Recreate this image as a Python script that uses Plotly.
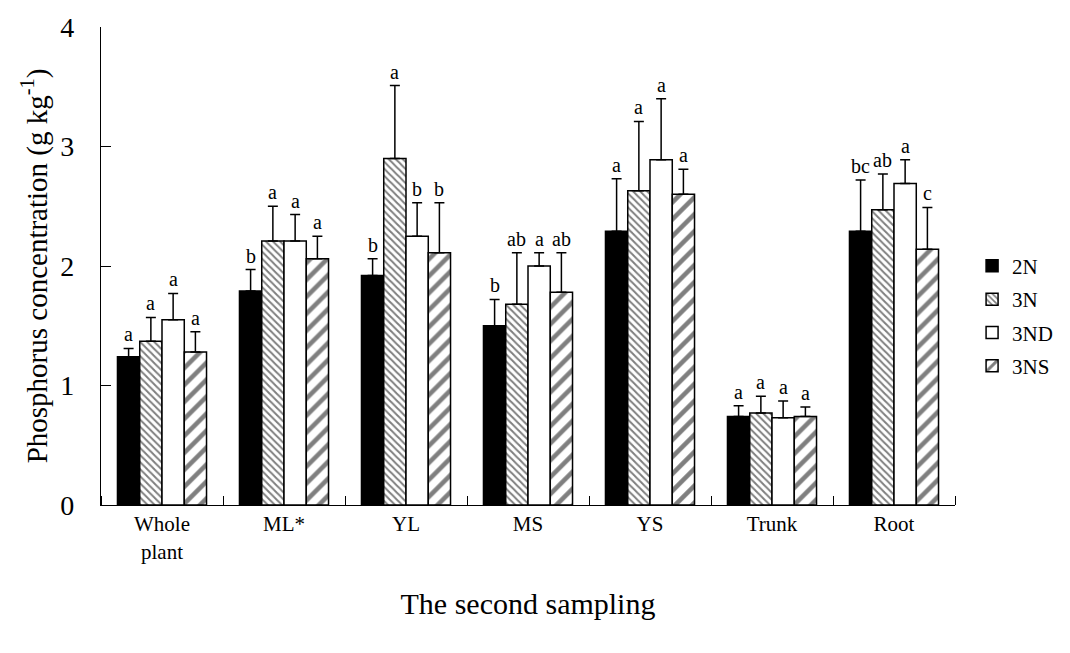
import plotly.graph_objects as go

categories = ["Whole<br>plant", "ML*", "YL", "MS", "YS", "Trunk", "Root"]
series = ["2N", "3N", "3ND", "3NS"]

v_2N = [1.24, 1.79, 1.92, 1.50, 2.29, 0.74, 2.29]
v_3N = [1.37, 2.21, 2.90, 1.68, 2.63, 0.77, 2.47]
v_3ND = [1.55, 2.21, 2.25, 2.00, 2.89, 0.73, 2.69]
v_3NS = [1.28, 2.06, 2.11, 1.78, 2.60, 0.74, 2.14]

e_2N = [0.07, 0.18, 0.14, 0.22, 0.44, 0.09, 0.43]
e_3N = [0.20, 0.29, 0.61, 0.43, 0.58, 0.14, 0.30]
e_3ND = [0.22, 0.22, 0.28, 0.11, 0.51, 0.14, 0.20]
e_3NS = [0.17, 0.19, 0.42, 0.33, 0.21, 0.08, 0.35]

l_2N = ["a", "b", "b", "b", "a", "a", "bc"]
l_3N = ["a", "a", "a", "ab", "a", "a", "ab"]
l_3ND = ["a", "a", "b", "a", "a", "a", "a"]
l_3NS = ["a", "a", "b", "ab", "a", "a", "c"]

values = [v_2N, v_3N, v_3ND, v_3NS]
errors = [e_2N, e_3N, e_3ND, e_3NS]
letters = [l_2N, l_3N, l_3ND, l_3NS]

FONT = "Liberation Serif"
styles = [
    dict(color="black"),
    dict(color="white", pattern=dict(shape="\\", size=5, solidity=0.4, fgcolor="black", bgcolor="white")),
    dict(color="white"),
    dict(color="white", pattern=dict(shape="/", size=12, solidity=0.38, fgcolor="black", bgcolor="white")),
]

BARGAP = 0.27
fig = go.Figure()
for j, name in enumerate(series):
    fig.add_trace(go.Bar(
        x=list(range(len(categories))), y=values[j], name=name,
        legendgroup=name,
        marker=dict(**styles[j], line=dict(color="black", width=1.5)),
        error_y=dict(type="data", array=errors[j], arrayminus=[0] * len(categories),
                     symmetric=False, color="black", thickness=1.5, width=5),
    ))

bw = (1 - BARGAP) / len(series)
for j in range(len(series)):
    for i in range(len(categories)):
        fig.add_annotation(
            x=i + (j - 1.5) * bw, y=values[j][i] + errors[j][i],
            text=letters[j][i], showarrow=False, yanchor="bottom", yshift=1,
            font=dict(family=FONT, size=20, color="black"),
        )

fig.update_layout(
    width=1070, height=653,
    margin=dict(l=101, r=89, t=20, b=148),
    paper_bgcolor="white", plot_bgcolor="white",
    barmode="group", bargap=BARGAP, bargroupgap=0,
    font=dict(family=FONT, color="black"),
    showlegend=True,
    legend=dict(x=1.02, y=0.395, xanchor="left", yanchor="middle",
                font=dict(family=FONT, size=21), tracegroupgap=3,
                bgcolor="rgba(0,0,0,0)"),
    xaxis=dict(
        range=[-0.5, len(categories) - 0.5],
        tickmode="array", tickvals=list(range(len(categories))), ticktext=categories,
        ticks="", showline=True, linecolor="black", linewidth=1.2,
        tickfont=dict(family=FONT, size=21), showgrid=False, zeroline=False,
        minor=dict(tickmode="array", tickvals=[i + 0.5 for i in range(-1, len(categories))],
                   ticks="inside", ticklen=9, tickcolor="black", tickwidth=1, showgrid=False),
        title=dict(text="The second sampling", font=dict(family=FONT, size=30), standoff=30),
    ),
    yaxis=dict(
        range=[0, 4], tickvals=[0, 1, 2, 3, 4], ticks="inside", ticklen=10,
        tickcolor="black", showline=True, linecolor="black", linewidth=1.2,
        tickfont=dict(family=FONT, size=28), showgrid=False, zeroline=False,
        ticklabelstandoff=20,
        title=dict(text="Phosphorus concentration (g kg<sup>-1</sup>)",
                   font=dict(family=FONT, size=29), standoff=4),
    ),
)

fig.write_html("out.html")
